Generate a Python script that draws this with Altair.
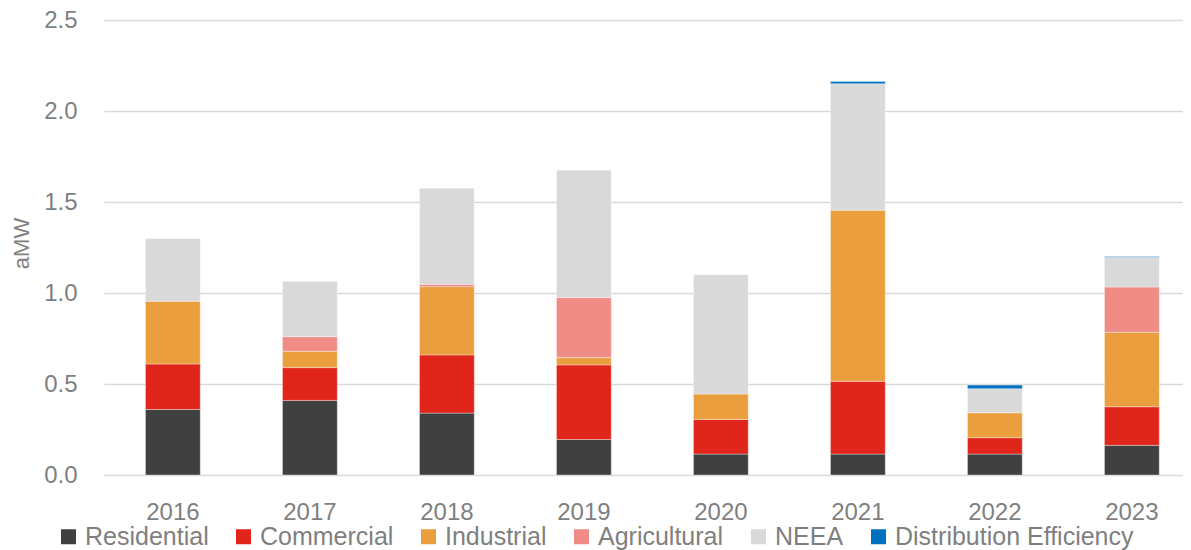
import altair as alt
import pandas as pd

years = ["2016", "2017", "2018", "2019", "2020", "2021", "2022", "2023"]
categories = ["Residential", "Commercial", "Industrial", "Agricultural", "NEEA", "Distribution Efficiency"]
colors = ["#404040", "#e0251b", "#eb9e3e", "#f18b86", "#d9d9d9", "#0070c0"]

residential = [0.36, 0.41, 0.34, 0.195, 0.115, 0.115, 0.115, 0.163]
commercial = [0.25, 0.18, 0.32, 0.41, 0.19, 0.40, 0.09, 0.212]
industrial = [0.345, 0.09, 0.375, 0.04, 0.14, 0.94, 0.137, 0.409]
agricultural = [0.0, 0.08, 0.013, 0.33, 0.0, 0.0, 0.0, 0.249]
neea = [0.345, 0.305, 0.527, 0.70, 0.655, 0.695, 0.132, 0.164]
dist_eff = [0.0, 0.0, 0.0, 0.0, 0.0, 0.012, 0.02, 0.003]

series = [residential, commercial, industrial, agricultural, neea, dist_eff]

rows = []
for ci, (cat, vals) in enumerate(zip(categories, series)):
    for y, v in zip(years, vals):
        if v > 0:
            rows.append({"Year": y, "Category": cat, "Value": v, "idx": ci})
df = pd.DataFrame(rows)

FONT = "Liberation Sans"
GRAY = "#7f7f7f"

chart = alt.Chart(df).mark_bar(stroke="#ffffff", strokeWidth=0.6, strokeOpacity=0.6).encode(
    x=alt.X("Year:N", sort=years, title=None,
            scale=alt.Scale(paddingInner=0.6, paddingOuter=0.238, align=0.636),
            axis=alt.Axis(labelAngle=0, ticks=False, domain=False, labelPadding=25,
                          labelFontSize=24, labelColor=GRAY, labelFont=FONT)),
    y=alt.Y("sum(Value):Q", title="aMW",
            scale=alt.Scale(domain=[0, 2.5], nice=False),
            axis=alt.Axis(values=[0, 0.5, 1.0, 1.5, 2.0, 2.5], format=".1f", ticks=False, domain=False,
                          labelPadding=27, labelFontSize=24, labelColor=GRAY, labelFont=FONT,
                          title="aMW",
                          titleFontSize=22, titleFont=FONT, titleColor=GRAY, titleFontWeight="normal",
                          titleAngle=270, titleAlign="center", titleBaseline="middle",
                          titleX=-83, titleY=223,
                          gridColor="#d9d9d9", gridWidth=1.5)),
    color=alt.Color("Category:N", sort=categories,
                    scale=alt.Scale(domain=categories, range=colors),
                    legend=alt.Legend(orient="none", legendX=-48, legendY=504, direction="horizontal",
                                      columns=6, title=None, symbolType="square", symbolSize=225,
                                      symbolStrokeWidth=0, labelFontSize=25, labelFont=FONT,
                                      labelColor=GRAY, labelOffset=4, columnPadding=22, padding=0,
                                      labelLimit=400)),
    order=alt.Order("idx:Q", sort="ascending"),
).properties(
    width=1079, height=455,
    autosize=alt.AutoSizeParams(type="none"),
    padding={"left": 96, "top": 12, "right": 0, "bottom": 75},
).configure_view(stroke=None)

chart.save("out.html", embed_options={"renderer": "svg", "actions": False})
